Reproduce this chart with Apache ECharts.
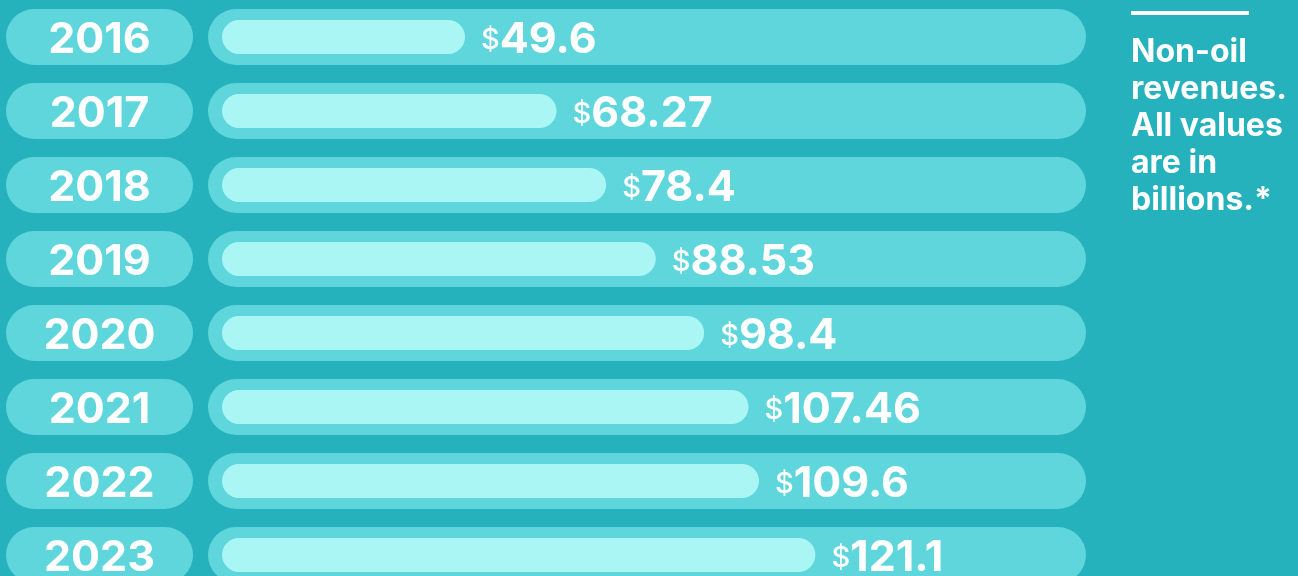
<!DOCTYPE html>
<html>
<head>
<meta charset="utf-8">
<title>Non-oil revenues</title>
<script src="https://cdn.jsdelivr.net/npm/echarts@6/dist/echarts.min.js"></script>
<style>
  html, body { margin: 0; padding: 0; background: #25b2bc; }
  #chart { width: 1298px; height: 576px; }
</style>
</head>
<body>
<div id="chart"></div>
<script>
// data
var years = ['2016', '2017', '2018', '2019', '2020', '2021', '2022', '2023'];
var revenues = [49.6, 68.27, 78.4, 88.53, 98.4, 107.46, 109.6, 121.1];
var noteText = ['Non-oil', 'revenues.', 'All values', 'are in', 'billions.*'];

var bgColor = '#25b2bc';
var trackColor = '#5fd6db';
var barColor = '#a9f6f5';
var font = 'Inter, "Noto Sans", sans-serif';

var chart = echarts.init(document.getElementById('chart'));

var option = {
  backgroundColor: bgColor,
  animation: false,
  title: {
    text: noteText.join('\n'),
    left: 1131,
    top: 34,
    padding: 0,
    textStyle: {
      color: '#ffffff',
      fontFamily: font,
      fontSize: 32,
      fontWeight: 'bold',
      lineHeight: 37
    }
  },
  // short white rule above the note
  graphic: [{
    type: 'rect',
    shape: { x: 1131, y: 11, width: 118, height: 4 },
    style: { fill: '#ffffff' }
  }],
  // last row runs past the bottom edge, so don't squeeze the grid into the page
  grid: { left: 208, top: 0, width: 878, height: 592, outerBoundsMode: 'none' },
  xAxis: {
    type: 'value',
    min: -2.86,
    max: 176.33,
    show: false
  },
  yAxis: [{
    type: 'category',
    data: years,
    inverse: true,
    axisLine: { show: false },
    axisTick: { show: false },
    axisLabel: {
      margin: 15,
      formatter: function (v) { return '{y|' + v + '}'; },
      rich: {
        y: {
          width: 187,
          height: 50,
          lineHeight: 50,
          padding: [6, 0, 0, 0],
          align: 'center',
          backgroundColor: trackColor,
          borderRadius: 28,
          color: '#ffffff',
          fontFamily: font,
          fontSize: 43,
          fontWeight: 'bold'
        }
      }
    }
  }, {
    type: 'category',
    data: years,
    inverse: true,
    show: false
  }],
  series: [{
    // the pale track behind every bar
    name: 'track',
    type: 'bar',
    yAxisIndex: 0,
    barWidth: 56,
    data: years.map(function () { return 0; }),
    itemStyle: { color: 'transparent' },
    showBackground: true,
    backgroundStyle: { color: trackColor, borderRadius: 28 },
    silent: true
  }, {
    name: 'Non-oil revenues',
    type: 'bar',
    yAxisIndex: 1,
    barWidth: 34,
    data: revenues,
    itemStyle: { color: barColor, borderRadius: 17 },
    label: {
      show: true,
      position: 'right',
      distance: 16,
      offset: [0, 3],
      formatter: function (p) { return '{d|$}{v|' + p.value + '}'; },
      rich: {
        d: { color: '#ffffff', fontFamily: font, fontSize: 29, fontWeight: 500 },
        v: { color: '#ffffff', fontFamily: font, fontSize: 43, fontWeight: 'bold' }
      }
    }
  }]
};

chart.setOption(option);
</script>
</body>
</html>
